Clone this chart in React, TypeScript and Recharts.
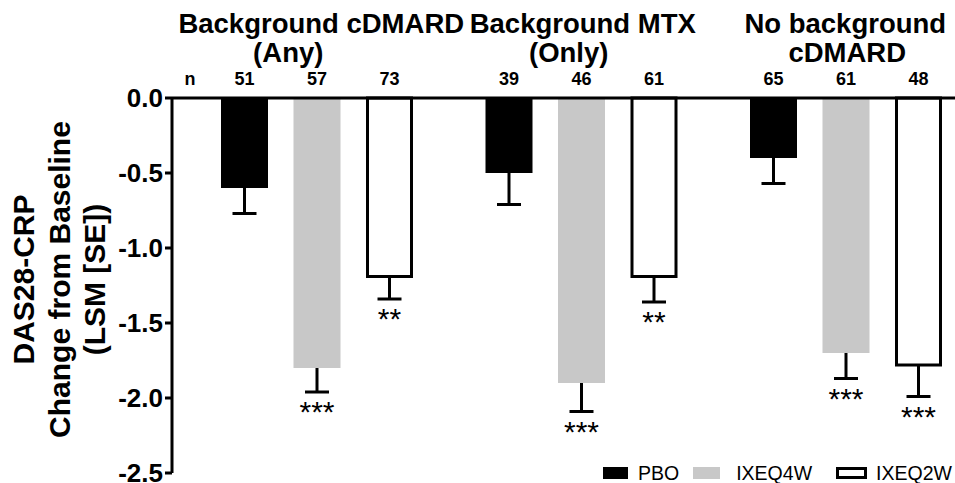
import { BarChart, Bar, XAxis, YAxis, Legend } from 'recharts';

const groups = ['Background cDMARD (Any)', 'Background MTX (Only)', 'No background cDMARD'];
const titleTop = ['Background cDMARD', 'Background MTX', 'No background'];
const titleBottom = ['(Any)', '(Only)', 'cDMARD'];

const seriesNames = ['PBO', 'IXEQ4W', 'IXEQ2W'];

const pboMean = [-0.6, -0.5, -0.4];
const pboSE = [0.17, 0.21, 0.17];
const pboN = [51, 39, 65];
const pboSig = ['', '', ''];

const q4wMean = [-1.8, -1.9, -1.7];
const q4wSE = [0.16, 0.19, 0.17];
const q4wN = [57, 46, 61];
const q4wSig = ['***', '***', '***'];

const q2wMean = [-1.19, -1.19, -1.78];
const q2wSE = [0.15, 0.17, 0.21];
const q2wN = [73, 61, 48];
const q2wSig = ['**', '**', '***'];

const yTicks = [0, -0.5, -1, -1.5, -2, -2.5];
const yLabelLines = ['DAS28-CRP', 'Change from Baseline', '(LSM [SE])'];

const data = groups.map((g, i) => ({
  group: g,
  pbo: pboMean[i], pboSe: pboSE[i], pboN: pboN[i], pboSig: pboSig[i],
  q4w: q4wMean[i], q4wSe: q4wSE[i], q4wN: q4wN[i], q4wSig: q4wSig[i],
  q2w: q2wMean[i], q2wSe: q2wSE[i], q2wN: q2wN[i], q2wSig: q2wSig[i],
}));

const FONT = '"Liberation Sans", Arial, sans-serif';
const GRAY = '#c8c8c8';

// small nudges so the two title lines sit where the original puts them
const TITLE_DX_TOP = [4, 1, -1];
const TITLE_DX_BOTTOM = [-29, -13, 1];

// bar + one-sided (downward) SE whisker + n above + significance below
const makeShape = (key: string, fill: string, outlined: boolean) => (props: any) => {
  const { x, y, width, height, payload } = props;
  const mean = payload[key];
  const se = payload[key + 'Se'];
  const top = Math.min(y, y + height);
  const bottom = Math.max(y, y + height);
  const pxPerUnit = Math.abs(height) / Math.abs(mean);
  const errEnd = bottom + se * pxPerUnit;
  const cx = x + width / 2;
  const sig = payload[key + 'Sig'];
  return (
    <g>
      {outlined ? (
        <rect x={x + 1.5} y={top} width={width - 3} height={bottom - top} fill="#fff" stroke="#000" strokeWidth={3} />
      ) : (
        <rect x={x} y={top} width={width} height={bottom - top} fill={fill} />
      )}
      <line x1={cx} x2={cx} y1={bottom} y2={errEnd} stroke="#000" strokeWidth={3} />
      <line x1={cx - 12} x2={cx + 12} y1={errEnd} y2={errEnd} stroke="#000" strokeWidth={3} />
      {sig && (
        <text x={cx} y={errEnd + 30} textAnchor="middle" fontSize={30} fontFamily={FONT} fill="#000">
          {sig}
        </text>
      )}
      <text x={cx} y={top - 13} textAnchor="middle" fontSize={18} fontWeight={700} fontFamily={FONT} fill="#000">
        {payload[key + 'N']}
      </text>
    </g>
  );
};

const GroupTick = (props: any) => {
  const { x, payload } = props;
  const i = payload.index;
  return (
    <g fontFamily={FONT} fontWeight={700} fontSize={27.5} fill="#000">
      <text x={x + TITLE_DX_TOP[i]} y={33} textAnchor="middle">{titleTop[i]}</text>
      <text x={x + TITLE_DX_BOTTOM[i]} y={62} textAnchor="middle">{titleBottom[i]}</text>
    </g>
  );
};

const YLabel = (props: any) => {
  const vb = props.viewBox || { x: 0, y: 98, width: 172, height: 375 };
  const cy = vb.y + vb.height / 2 - 6;
  return (
    <g fontFamily={FONT} fontWeight={700} fill="#000">
      {yLabelLines.map((t, i) => {
        const bx = 34 + i * 35.5;
        return (
          <text key={t} x={bx} y={cy} fontSize={30} textAnchor="middle" transform={`rotate(-90, ${bx}, ${cy})`}>
            {t}
          </text>
        );
      })}
      <text x={vb.x + vb.width + 18} y={vb.y - 13} fontSize={18} textAnchor="middle">n</text>
    </g>
  );
};

const legendSwatch: Record<string, { background: string; border: string; width: number; textGap: number; gap: number }> = {
  PBO: { background: '#000', border: 'none', width: 25, textGap: 10, gap: 14 },
  IXEQ4W: { background: GRAY, border: 'none', width: 27, textGap: 16, gap: 24 },
  IXEQ2W: { background: '#fff', border: '3px solid #000', width: 31, textGap: 9, gap: 0 },
};

const LegendContent = (props: any) => {
  const items = [...(props.payload || [])].sort(
    (a: any, b: any) => seriesNames.indexOf(a.value) - seriesNames.indexOf(b.value)
  );
  return (
    <div style={{ display: 'flex', alignItems: 'center', fontFamily: FONT, fontSize: 19.5, lineHeight: '16px', color: '#000', whiteSpace: 'nowrap' }}>
      {items.map((it: any) => {
        const s = legendSwatch[it.value];
        return (
          <div key={it.value} style={{ display: 'flex', alignItems: 'center', marginRight: s.gap }}>
            <span
              style={{
                display: 'inline-block',
                boxSizing: 'border-box',
                width: s.width,
                height: 12,
                background: s.background,
                border: s.border,
                marginRight: s.textGap,
              }}
            />
            <span>{it.value}</span>
          </div>
        );
      })}
    </div>
  );
};

export default function App() {
  return (
    <div style={{ position: 'absolute', left: 0, top: 0, width: 955, height: 483, overflow: 'hidden', background: '#fff' }}>
      <BarChart
        width={980}
        height={483}
        data={data}
        margin={{ top: 0, right: 1.5, bottom: 10, left: 0 }}
        barSize={47}
        barGap={25.5}
        style={{ fontFamily: FONT }}
      >
        <YAxis
          type="number"
          domain={[-2.5, 0]}
          ticks={yTicks}
          interval={0}
          width={172}
          tickFormatter={(v: number) => v.toFixed(1)}
          tick={{ fill: '#000', fontSize: 26, fontWeight: 700, fontFamily: FONT }}
          tickSize={7}
          tickMargin={2}
          axisLine={{ stroke: '#000', strokeWidth: 3 }}
          tickLine={{ stroke: '#000', strokeWidth: 3 }}
          label={<YLabel />}
        />
        <Bar dataKey="pbo" name={seriesNames[0]} fill="#000" shape={makeShape('pbo', '#000', false)} isAnimationActive={false} />
        <Bar dataKey="q4w" name={seriesNames[1]} fill={GRAY} shape={makeShape('q4w', GRAY, false)} isAnimationActive={false} />
        <Bar dataKey="q2w" name={seriesNames[2]} fill="#fff" shape={makeShape('q2w', '#fff', true)} isAnimationActive={false} />
        <XAxis
          dataKey="group"
          orientation="top"
          height={98}
          interval={0}
          padding={{ left: 13, right: 0 }}
          tickLine={false}
          axisLine={{ stroke: '#000', strokeWidth: 3 }}
          tick={<GroupTick />}
        />
        <Legend
          layout="horizontal"
          verticalAlign="middle"
          align="center"
          wrapperStyle={{ top: 465, left: 603, width: 'auto', height: 'auto' }}
          content={<LegendContent />}
        />
      </BarChart>
    </div>
  );
}
